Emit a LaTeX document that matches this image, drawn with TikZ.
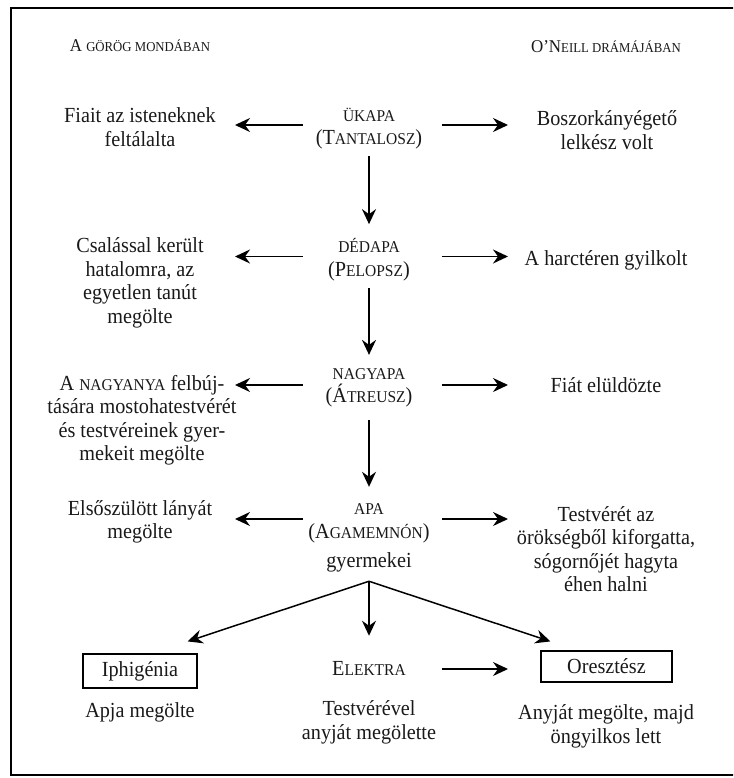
\documentclass[tikz,border=0pt]{standalone}
\usepackage{fontspec}
\setmainfont{Liberation Serif}[FakeStretch=0.94]
\usetikzlibrary{arrows.meta}
\newcommand\bsc[1]{{\fontsize{16.5pt}{23.5pt}\selectfont #1}}
\newcommand\hsc[1]{{\fontsize{13.6pt}{18pt}\selectfont #1}}
\tikzset{
  body/.style={font=\fontsize{21.5pt}{23.5pt}\selectfont, align=center, inner sep=0pt, text=black!90},
  head/.style={font=\fontsize{18pt}{20pt}\selectfont, inner sep=0pt, text=black!90},
  mid/.style={body, minimum width=132pt},
  arr/.style={-{Stealth[length=15pt,width=14pt,inset=5pt]}, line width=1.7pt},
  diag/.style={-{Stealth[length=15pt,width=14pt,inset=5pt]}, line width=1.5pt},
  boxed/.style={body, draw, line width=1.2pt},
}
\begin{document}
\begin{tikzpicture}[x=1pt,y=-1pt]
\useasboundingbox (0,0) rectangle (733,778);
\clip (0,0) rectangle (733,778);
\draw[line width=2pt] (10.5,8) rectangle (760,775);

\node[head] (hl) at (140,46) {A \hsc{GÖRÖG MONDÁBAN}};
\node[head] (hr) at (606,47) {O’N\hsc{EILL DRÁMÁJÁBAN}};

\coordinate (lend) at (235,0);
\coordinate (rend) at (508,0);

% row 1
\node[body] (l1) at (140,127) {Fiait az isteneknek\\feltálalta};
\node[mid] (c1) at (369,128.5) {\bsc{ÜKAPA}\\(T\bsc{ANTALOSZ})};
\node[body] (r1) at (607,130) {Boszorkányégető\\lelkész volt};
% row 2
\node[body] (l2) at (140,283) {Csalással került\\hatalomra, az\\egyetlen tanút\\megölte};
\node[mid] (c2) at (369,259.5) {\bsc{DÉDAPA}\\(P\bsc{ELOPSZ})};
\node[body] (r2) at (606,260) {A harctéren gyilkolt};
% row 3
\node[body] (l3) at (142,420) {A \bsc{NAGYANYA} felbúj-\\tására mostohatestvérét\\és testvéreinek gyer-\\mekeit megölte};
\node[mid] (c3) at (369,388) {\bsc{NAGYAPA}\\(Á\bsc{TREUSZ})};
\node[body] (r3) at (606,385) {Fiát elüldözte};
% row 4
\node[body] (l4) at (140,522) {Elsőszülött lányát\\megölte};
\node[mid] (c4) at (369,523.5) {\bsc{APA}\\(A\bsc{GAMEMNÓN})};
\node[body] (g4) at (369,562) {gyermekei};
\node[body] (r4) at (606,549) {Testvérét az\\örökségből kiforgatta,\\sógornőjét hagyta\\éhen halni};
% row 5
\node[boxed, minimum width=114pt, minimum height=34pt] (iph) at (140,671) {Iphigénia};
\node[mid] (el) at (369,668) {E\bsc{LEKTRA}};
\node[boxed, minimum width=131pt, minimum height=31pt] (ore) at (606.5,666.5) {Oresztész};
% row 6
\node[body] (l6) at (140,712) {Apja megölte};
\node[body] (c6) at (369,722.5) {Testvérével\\anyját megölette};
\node[body] (r6) at (606,726.5) {Anyját megölte, majd\\öngyilkos lett};

% side arrows
\draw[arr] ([yshift=3.5pt]c1.west) -- ([yshift=3.5pt]c1.west -| lend);
\draw[arr, shorten <=7pt] ([yshift=3.5pt]c1.east) -- ([yshift=3.5pt]c1.east -| rend);
\draw[arr] ([yshift=3pt]c2.west) -- ([yshift=3pt]c2.west -| lend);
\draw[arr, shorten <=7pt] ([yshift=3pt]c2.east) -- ([yshift=3pt]c2.east -| rend);
\draw[arr] ([yshift=3pt]c3.west) -- ([yshift=3pt]c3.west -| lend);
\draw[arr, shorten <=7pt] ([yshift=3pt]c3.east) -- ([yshift=3pt]c3.east -| rend);
\draw[arr] ([yshift=4.5pt]c4.west) -- ([yshift=4.5pt]c4.west -| lend);
\draw[arr, shorten <=7pt] ([yshift=4.5pt]c4.east) -- ([yshift=4.5pt]c4.east -| rend);
\draw[arr, shorten <=7pt] ([yshift=-1pt]el.east) -- ([yshift=-1pt]el.east -| rend);

% vertical arrows
\draw[arr, shorten <=7pt, shorten >=14pt] (c1) -- (c2);
\draw[arr, shorten <=7pt, shorten >=13.4pt] (c2) -- (c3);
\draw[arr, shorten <=12.4pt, shorten >=17pt] (c3) -- (c4);

% children
\coordinate (apex) at ([yshift=-9.3pt]g4.south);
\draw[diag] (apex) -- ([xshift=-10pt,yshift=12pt]iph.north east);
\draw[diag, shorten >=25pt] (apex) -- (el.north);
\draw[diag] (apex) -- ([xshift=10pt,yshift=9pt]ore.north west);
\end{tikzpicture}
\end{document}
